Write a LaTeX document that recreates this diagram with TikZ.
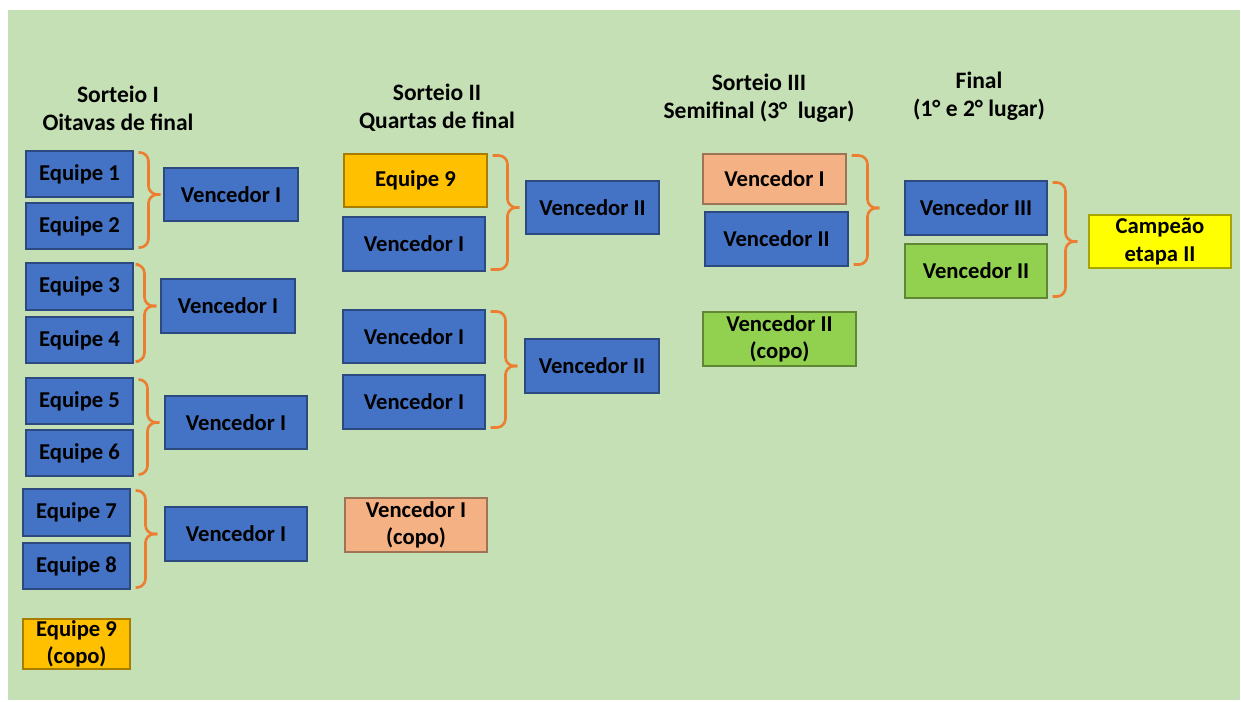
\documentclass[tikz,border=0pt]{standalone}
\usepackage{fontspec}
\setmainfont{Carlito}
\usetikzlibrary{calc, positioning}

\definecolor{bggreen}{HTML}{C5E0B4}
\definecolor{teamblue}{HTML}{4472C4}
\definecolor{lineblue}{HTML}{2F528F}
\definecolor{cupgold}{HTML}{FFC000}
\definecolor{salmon}{HTML}{F4B183}
\definecolor{leafgreen}{HTML}{92D050}
\definecolor{champyellow}{HTML}{FFFF00}
\definecolor{braceorange}{HTML}{ED7D31}

\begin{document}
\begin{tikzpicture}[
    x=0.02cm, y=-0.02cm,
    box/.style={draw=#1!65!black, fill=#1, line width=0.6pt, align=center, inner sep=0pt,
        font=\fontsize{12.9}{15.5}\selectfont\bfseries},
    box/.default=teamblue,
    boxsize/.style 2 args={minimum width=#1*0.02cm, minimum height=#2*0.02cm},
    title/.style={align=center, font=\fontsize{13.4}{16}\selectfont\bfseries},
    brace/.style={draw=braceorange, line width=1.5pt, rounded corners=5pt}
]

    % Background
    \useasboundingbox (0,0) rectangle (1241,701);
    \fill[white] (0,0) rectangle (1241,701);
    \fill[bggreen] (8,10) rectangle (1240,700);

    % Titles
    \node[title] (t1) at (118,108) {Sorteio I\\Oitavas de final};
    \node[title] (t2) at (437,107.5) {Sorteio II\\Quartas de final};
    \node[title] (t3) at (759,98) {Sorteio III\\Semifinal (3°~~lugar)};
    \node[title] (t4) at (979,96) {Final\\(1° e 2° lugar)};

    % Sorteio I
    \node[box, boxsize={107}{46}] (e1) at (79.5,174) {Equipe 1};
    \node[box, boxsize={107}{46}] (e2) at (79.5,226) {Equipe 2};
    \node[box, boxsize={134}{53}] (v1) at (231,194.5) {Vencedor I};

    \node[box, boxsize={107}{47}] (e3) at (79.5,286.5) {Equipe 3};
    \node[box, boxsize={107}{46}] (e4) at (79.5,340) {Equipe 4};
    \node[box, boxsize={134}{54}] (v2) at (228,306) {Vencedor I};

    \node[box, boxsize={107}{46}] (e5) at (79.5,401) {Equipe 5};
    \node[box, boxsize={107}{46}] (e6) at (79.5,453) {Equipe 6};
    \node[box, boxsize={142}{53}] (v3) at (236,422.5) {Vencedor I};

    \node[box, boxsize={107}{47}] (e7) at (76.5,512.5) {Equipe 7};
    \node[box, boxsize={107}{46}] (e8) at (76.5,566) {Equipe 8};
    \node[box, boxsize={142}{54}] (v4) at (236,534) {Vencedor I};

    \node[box=cupgold, boxsize={107}{50}] (e9) at (76.5,644) {Equipe 9\\(copo)};

    % Sorteio II
    \node[box=cupgold, boxsize={143}{53}] (q1) at (415.5,180.5) {Equipe 9};
    \node[box, boxsize={142}{54}] (q2) at (414,244) {Vencedor I};
    \node[box, boxsize={133}{53}] (w1) at (592.5,207.5) {Vencedor II};

    \node[box, boxsize={142}{53}] (q3) at (414,336.5) {Vencedor I};
    \node[box, boxsize={142}{54}] (q4) at (414,402) {Vencedor I};
    \node[box, boxsize={134}{54}] (w2) at (592,366) {Vencedor II};

    \node[box=salmon, boxsize={142}{54}] (q5) at (416,525) {Vencedor I\\(copo)};

    % Sorteio III
    \node[box=salmon, boxsize={143}{50}] (s1) at (774.5,179) {Vencedor I};
    \node[box, boxsize={143}{54}] (s2) at (776.5,239) {Vencedor II};
    \node[box=leafgreen, boxsize={153}{54}] (s3) at (779.5,339) {Vencedor II\\(copo)};

    % Final
    \node[box, boxsize={142}{54}] (f1) at (976,208) {Vencedor III};
    \node[box=leafgreen, boxsize={142}{54}] (f2) at (976,271) {Vencedor II};
    \node[box=champyellow, boxsize={142}{53}] (champ) at (1160,241.5) {Campeão\\etapa II};

    % Braces
    \foreach \a/\b/\t/\g in {e1/e2/v1/3, e3/e4/v2/4, e5/e6/v3/5, e7/e8/v4/7,
                             q1/q2/w1/6, q3/q4/w2/7, s1/s2/f1/25, f1/f2/champ/11} {
        \coordinate (tip) at ($(\t.west)+(-\g,0)$);
        \draw[brace] ($(\a.north east)+(5,2)$) -| ($(tip)+(-12,0)$) -- (tip);
        \draw[brace] ($(\b.south east)+(5,-2)$) -| ($(tip)+(-12,0)$) -- (tip);
    }

\end{tikzpicture}
\end{document}
